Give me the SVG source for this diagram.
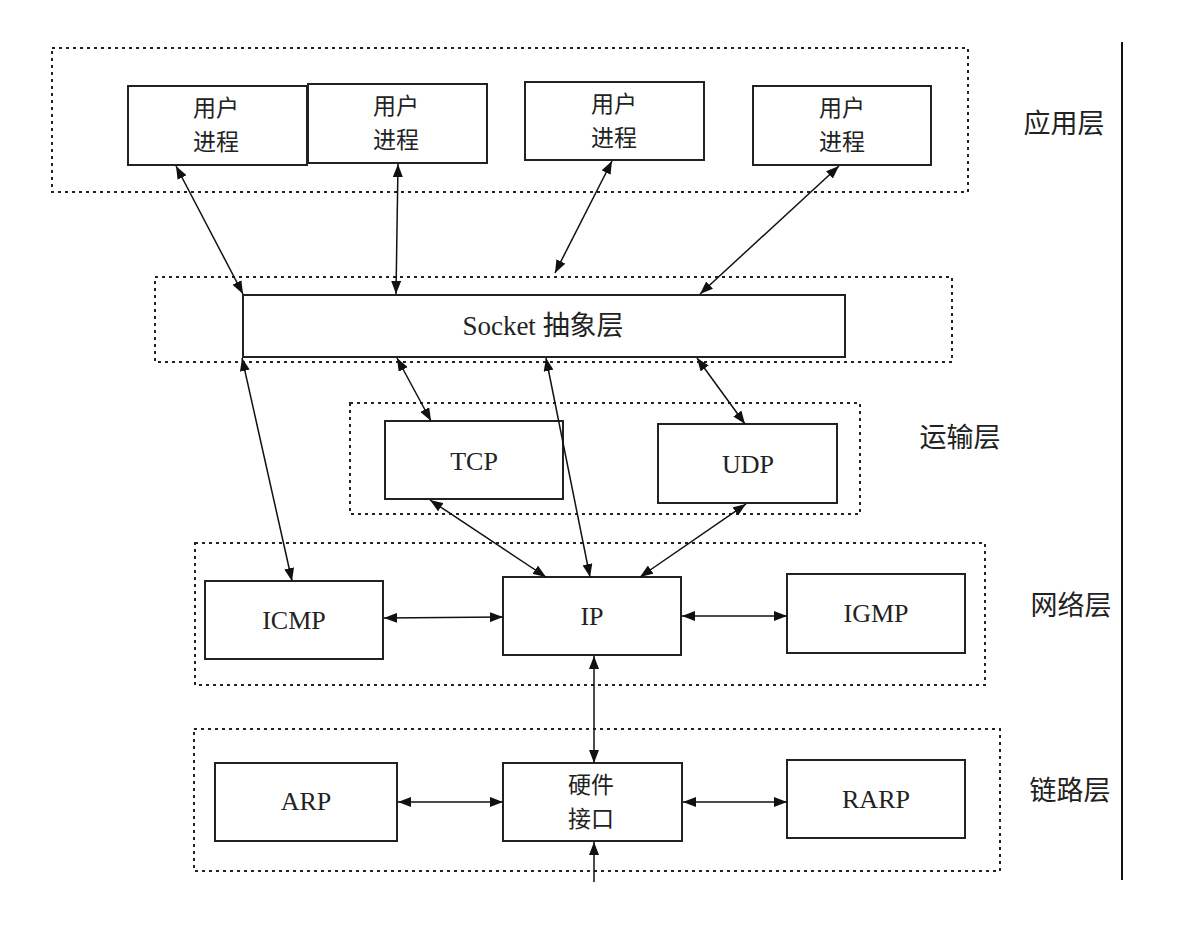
<svg xmlns="http://www.w3.org/2000/svg" width="1192" height="928" viewBox="0 0 1192 928">
<defs>
<marker id="ah" viewBox="0 0 13 10" refX="13" refY="5" markerWidth="13" markerHeight="10" markerUnits="userSpaceOnUse" orient="auto-start-reverse">
<path d="M0,0 L13,5 L0,10 z" fill="#111"/>
</marker>
<style>
.layer{fill:none;stroke:#222;stroke-width:2;stroke-dasharray:3 4}
.box{fill:#fff;stroke:#222;stroke-width:2}
.zh{font-family:"Noto Sans CJK SC",sans-serif;font-size:23px;fill:#222;text-anchor:middle}
.en{font-family:"Liberation Serif",serif;font-size:26px;fill:#222;text-anchor:middle}
.lbl{font-family:"Noto Sans CJK SC",sans-serif;font-size:27px;fill:#222;text-anchor:middle}
.c{fill:none;stroke:#111;stroke-width:1.5}
.c2{marker-start:url(#ah);marker-end:url(#ah)}
</style>
</defs>
<rect width="1192" height="928" fill="#fff"/>
<g id="layers">
<rect class="layer" x="52" y="48" width="916" height="144"/>
<rect class="layer" x="155" y="277" width="797" height="85"/>
<rect class="layer" x="350" y="403" width="510" height="111"/>
<rect class="layer" x="195" y="543" width="790" height="142"/>
<rect class="layer" x="194" y="729" width="806" height="142"/>
</g>
<line x1="1122" y1="42" x2="1122" y2="880" stroke="#111" stroke-width="2"/>
<g id="app-label"><text class="lbl" x="1064" y="133">应用层</text></g>
<g id="trans-label"><text class="lbl" x="960" y="447">运输层</text></g>
<g id="net-label"><text class="lbl" x="1071" y="615">网络层</text></g>
<g id="link-label"><text class="lbl" x="1070" y="800">链路层</text></g>
<g id="up1"><rect class="box" x="128" y="86" width="179" height="79"/><text class="zh"><tspan x="216" y="116">用户</tspan><tspan x="216" y="150">进程</tspan></text></g>
<g id="up2"><rect class="box" x="308" y="84" width="179" height="79"/><text class="zh"><tspan x="396" y="114">用户</tspan><tspan x="396" y="148">进程</tspan></text></g>
<g id="up3"><rect class="box" x="525" y="82" width="179" height="78"/><text class="zh"><tspan x="614" y="112">用户</tspan><tspan x="614" y="146">进程</tspan></text></g>
<g id="up4"><rect class="box" x="753" y="86" width="178" height="79"/><text class="zh"><tspan x="842" y="116">用户</tspan><tspan x="842" y="150">进程</tspan></text></g>
<g id="socket"><rect class="box" x="243" y="295" width="602" height="62"/><text x="543" y="335" style="font-family:'Liberation Serif',serif;font-size:27px;fill:#222;text-anchor:middle">Socket <tspan style="font-family:'Noto Sans CJK SC',sans-serif">抽象层</tspan></text></g>
<g id="tcp"><rect class="box" x="385" y="421" width="178" height="78"/><text class="en" x="474" y="470">TCP</text></g>
<g id="udp"><rect class="box" x="658" y="424" width="179" height="79"/><text class="en" x="748" y="473">UDP</text></g>
<g id="icmp"><rect class="box" x="205" y="581" width="178" height="78"/><text class="en" x="294" y="629">ICMP</text></g>
<g id="ip"><rect class="box" x="503" y="577" width="178" height="78"/><text class="en" x="592" y="625">IP</text></g>
<g id="igmp"><rect class="box" x="787" y="574" width="178" height="79"/><text class="en" x="876" y="622">IGMP</text></g>
<g id="arp"><rect class="box" x="215" y="763" width="182" height="78"/><text class="en" x="306" y="810">ARP</text></g>
<g id="hw"><rect class="box" x="503" y="763" width="179" height="78"/><text class="zh"><tspan x="591" y="793">硬件</tspan><tspan x="591" y="827">接口</tspan></text></g>
<g id="rarp"><rect class="box" x="787" y="760" width="178" height="78"/><text class="en" x="876" y="808">RARP</text></g>
<g id="connectors">
<line class="c c2" x1="176" y1="166" x2="243" y2="294"/>
<line class="c c2" x1="398" y1="164" x2="396" y2="294"/>
<line class="c c2" x1="612" y1="161" x2="555" y2="273"/>
<line class="c c2" x1="839" y1="166" x2="700" y2="294"/>
<line class="c c2" x1="242" y1="358" x2="292" y2="581"/>
<line class="c c2" x1="397" y1="358" x2="431" y2="421"/>
<line class="c c2" x1="546" y1="358" x2="590" y2="577"/>
<line class="c c2" x1="697" y1="358" x2="745" y2="424"/>
<line class="c c2" x1="430" y1="500" x2="546" y2="577"/>
<line class="c c2" x1="746" y1="504" x2="640" y2="577"/>
<line class="c c2" x1="384" y1="618" x2="503" y2="617"/>
<line class="c c2" x1="682" y1="616" x2="787" y2="616"/>
<line class="c c2" x1="594" y1="656" x2="594" y2="763"/>
<line class="c c2" x1="398" y1="802" x2="503" y2="802"/>
<line class="c c2" x1="683" y1="802" x2="787" y2="802"/>
<line class="c" x1="594" y1="882" x2="594" y2="842" marker-end="url(#ah)"/>
</g>
</svg>
